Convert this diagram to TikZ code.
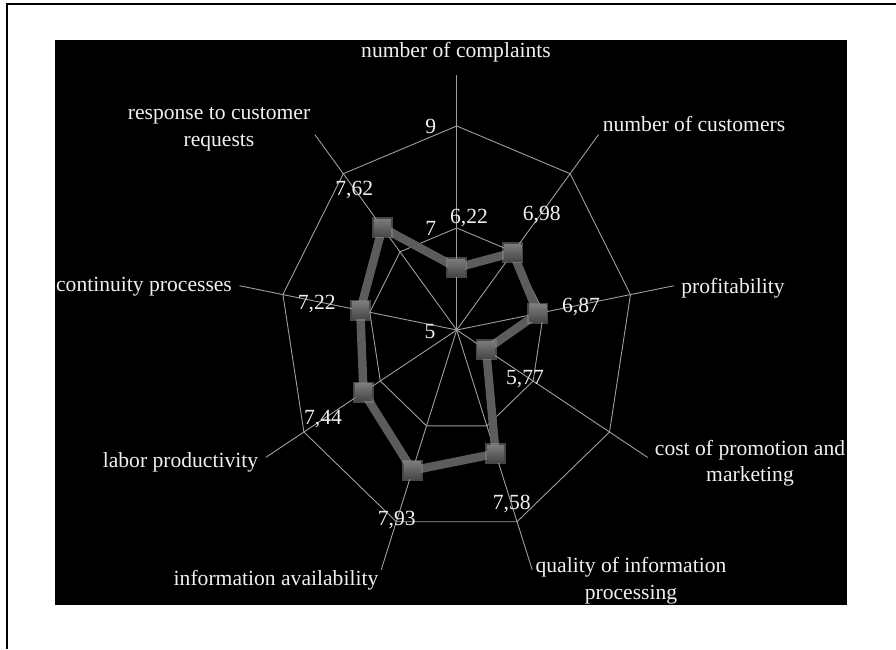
\documentclass[tikz,border=0pt]{standalone}
\usepackage{fontspec}
\setmainfont{Liberation Serif}

\begin{document}
\begin{tikzpicture}[x=1pt, y=1pt,
    grid/.style={draw=black!38, line width=0.9pt},
    series/.style={draw=black!64, line width=8.5pt, line join=round},
    sq/.style={rectangle, minimum size=17pt, inner sep=0pt, top color=black!52, bottom color=black!72,
        preaction={draw=black!45, line width=4pt, opacity=0.5}},
    lbl/.style={text=white!94!black, font=\fontsize{21.6}{26.7}\selectfont, align=center, anchor=base, inner sep=0pt}]
    \useasboundingbox (0,0) rectangle (896,649);
    \draw[line width=2pt] (7,0) -- (7,644.7) -- (896,644.7);
    \fill[black] (55,44) rectangle (847,609);

    \begin{scope}[shift={(456.7,319)}, xscale=0.865]
        \coordinate (c) at (0,0);
        \foreach \i in {0,...,8} {
            \coordinate (a\i) at ({90-40*\i}:255);
            \coordinate (r7-\i) at ({90-40*\i}:102);
            \coordinate (r9-\i) at ({90-40*\i}:204);
            \draw[grid] (c) -- (a\i);
        }
        \draw[grid] (r7-0) \foreach \i in {1,...,8} {-- (r7-\i)} -- cycle;
        \draw[grid] (r9-0) \foreach \i in {1,...,8} {-- (r9-\i)} -- cycle;
        \foreach \v [count=\i from 0] in {6.22,6.98,6.87,5.77,7.58,7.93,7.44,7.22,7.62}
            \coordinate (p\i) at ({90-40*\i}:{(\v-5)*51});
        \draw[series] (p0) \foreach \i in {1,...,8} {-- (p\i)} -- cycle;
        \foreach \i in {0,...,8}
            \node[sq] (m\i) at (p\i) {};
    \end{scope}

    % axis names
    \node[lbl] (complaints) at (456,591.5) {number of complaints};
    \node[lbl] (customers) at (694,517.3) {number of customers};
    \node[lbl] (profit) at (733,356) {profitability};
    \node[lbl] (cost) at (750,167.3) {cost of promotion and\\marketing};
    \node[lbl] (quality) at (631,49.5) {quality of information\\processing};
    \node[lbl] (avail) at (276,64) {information availability};
    \node[lbl] (labor) at (180.5,182) {labor productivity};
    \node[lbl] (contin) at (144,357.3) {continuity processes};
    \node[lbl] (response) at (219,502.3) {response to customer\\requests};

    % scale and values
    \node[lbl] (s9) at (430.7,515) {9};
    \node[lbl] (s7) at (430.7,413.5) {7};
    \node[lbl] (s5) at (430,310.5) {5};
    \node[lbl] (v0) at (469,425) {6,22};
    \node[lbl] (v1) at (541.7,428.5) {6,98};
    \node[lbl] (v2) at (581,336.5) {6,87};
    \node[lbl] (v3) at (525,265) {5,77};
    \node[lbl] (v4) at (511.7,140) {7,58};
    \node[lbl] (v5) at (396.7,123.5) {7,93};
    \node[lbl] (v6) at (323,225) {7,44};
    \node[lbl] (v7) at (316.7,340) {7,22};
    \node[lbl] (v8) at (354.3,453) {7,62};
\end{tikzpicture}
\end{document}
